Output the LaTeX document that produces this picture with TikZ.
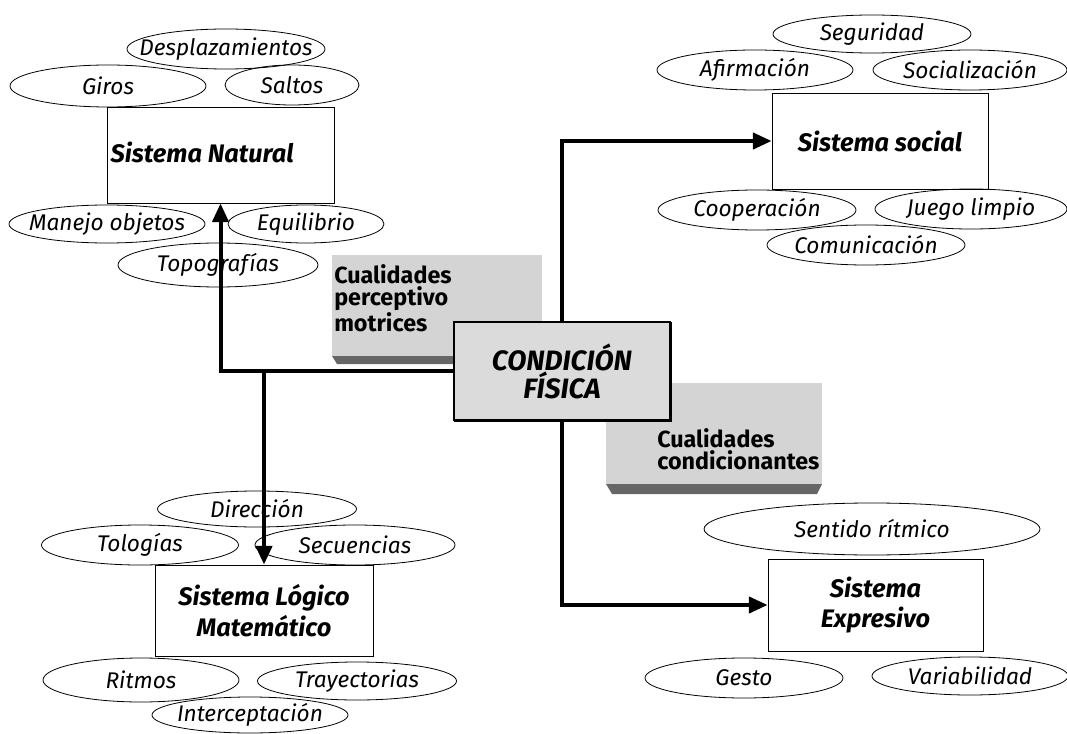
\documentclass[tikz,border=0pt]{standalone}
\usepackage{fontspec}
\setmainfont{Fira Sans}
\usetikzlibrary{shapes.geometric,arrows.meta}

\tikzset{
  oval/.style={ellipse, draw, line width=0.6pt, inner sep=0pt},
  ovaltext/.style={inner sep=0pt, font=\itshape\fontsize{17}{19}\selectfont},
  sysbox/.style={rectangle, draw, line width=0.6pt, align=center,
                 font=\bfseries\itshape\fontsize{19}{23}\selectfont},
  shade/.style={fill=black!17, draw=none},
  shadestrip/.style={fill=black!60, draw=none},
  shadetext/.style={font=\bfseries\fontsize{17.5}{17}\selectfont, align=left, inner sep=0pt},
  centerbox/.style={rectangle, draw, line width=0.8pt, fill=black!14, align=center,
                    font=\bfseries\itshape\fontsize{21}{21}\selectfont},
  conn/.style={line width=3pt, -{Triangle[length=14pt,width=12pt]}},
}

% one ellipse of fixed size with its label: name, centre x, centre y, width, height (pixel units), label
\newcommand{\ovalat}[6]{%
  \node[oval, minimum width=#4*0.75pt, minimum height=#5*0.75pt] (#1) at (#2,#3) {};
  \node[ovaltext] (#1-t) at (#1.center) {#6};}
% one system box: name, left, top, right, bottom, label
\newcommand{\sysat}[6]{%
  \node[sysbox, minimum width=(#4-#2)*0.75pt, minimum height=(#5-#3)*0.75pt]
    (#1) at ({(#2+#4)/2},{(#3+#5)/2}) {#6};}

\begin{document}
\begin{tikzpicture}[x=0.75pt, y=-0.75pt]
\useasboundingbox (0,0) rectangle (1067,734);

% shaded label panels behind the central box
\fill[shade] (332,255) rectangle (542,356);
\fill[shadestrip] (332,356) -- (542,356) -- (542,364) -- (337,364) -- cycle;
\node[shadetext, anchor=north west] (qpm) at (334,264)
  {Cualidades\\perceptivo\\motrices};

\fill[shade] (606,383) rectangle (822,484);
\fill[shadestrip] (606,484) -- (822,484) -- (817,494) -- (612,494) -- cycle;
\node[shadetext, anchor=north west] (qcond) at (657,428)
  {Cualidades\\condicionantes};

% Sistema Natural
\sysat{nat}{107}{107}{334}{203}{}
\node[font=\bfseries\itshape\fontsize{19}{23}\selectfont, anchor=west] (natlbl) at (106,152) {Sistema Natural};
\ovalat{desp}{226}{49}{198}{40}{Desplazamientos}
\ovalat{giros}{108}{86}{196}{42}{Giros}
\ovalat{saltos}{292}{85}{134}{40}{Saltos}
\ovalat{manejo}{107}{224}{196}{38}{Manejo objetos}
\ovalat{equil}{306}{224}{156}{38}{Equilibrio}
\ovalat{topo}{218}{265}{200}{44}{Topografías}

% Sistema social
\sysat{soc}{772}{93}{988}{189}{Sistema social}
\ovalat{segur}{872}{34}{198}{38}{Seguridad}
\ovalat{afirm}{755}{70}{196}{40}{Afirmación}
\ovalat{social}{970}{70}{194}{40}{Socialización}
\ovalat{coop}{757}{210}{198}{40}{Cooperación}
\ovalat{juego}{971}{209}{192}{40}{Juego limpio}
\ovalat{comun}{866}{245}{198}{40}{Comunicación}

% Sistema Lógico Matemático
\sysat{log}{155}{565}{373}{656}{Sistema Lógico\\Matemático}
\ovalat{direc}{257}{509}{199}{36}{Dirección}
\ovalat{tolog}{140}{545}{197}{40}{Tologías}
\ovalat{secu}{355}{545}{200}{40}{Secuencias}
\ovalat{ritmo}{141}{680}{196}{44}{Ritmos}
\ovalat{tray}{357}{681}{199}{38}{Trayectorias}
\ovalat{inter}{250}{715}{196}{36}{Interceptación}

% Sistema Expresivo
\sysat{exp}{768}{559}{983}{651}{Sistema\\Expresivo}
\ovalat{sentido}{872}{529}{336}{52}{Sentido rítmico}
\ovalat{gesto}{744}{678}{198}{40}{Gesto}
\ovalat{varia}{970}{676}{196}{38}{Variabilidad}

% central box
\node[centerbox, minimum width=216*0.75pt, minimum height=98*0.75pt] (cond) at (562,371)
  {CONDICIÓN\\FÍSICA};
\draw[line width=1.6pt] ([xshift=0.5pt]cond.south west) -- (cond.south east) -- ([yshift=-0.5pt]cond.north east);

% connectors
\draw[conn] (cond.west) -| (nat.south);
\draw[conn] (cond.west) -| (log.north);
\draw[conn] (cond.north) |- (soc.west);
\draw[conn] (cond.south) |- (exp.west);
\end{tikzpicture}
\end{document}
